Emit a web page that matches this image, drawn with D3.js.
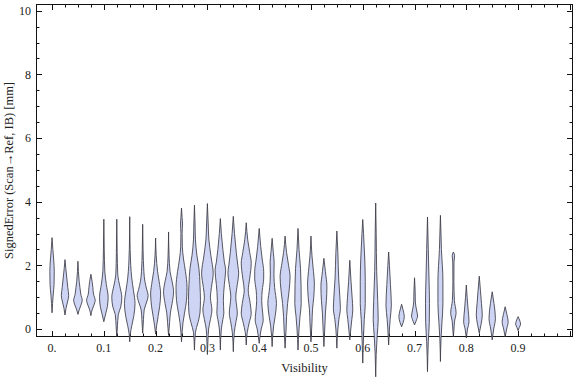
<!DOCTYPE html>
<html><head><meta charset="utf-8">
<script src="https://cdn.jsdelivr.net/npm/d3@7"></script>
<style>html,body{margin:0;padding:0;background:#fff;}svg{display:block;}</style>
</head><body>
<svg id="chart" width="576" height="377"></svg>
<script>
// Visibility bins (violin centres)
const visibility = [0,0.025,0.05,0.075,0.1,0.125,0.15,0.175,0.2,0.225,0.25,0.275,0.3,0.325,0.35,0.375,0.4,0.425,0.45,0.475,0.5,0.525,0.55,0.575,0.6,0.625,0.65,0.675,0.7,0.725,0.75,0.775,0.8,0.825,0.85,0.875,0.9];
// Estimated density profile of each violin: [signedError (mm), relative density]
const profiles = [
 [[2.87,0],[2.5,0.8],[2.2,1.6],[1.8,2.2],[1.4,2.0],[1.1,1.2],[0.8,0.5],[0.51,0]],
 [[2.18,0],[1.9,0.8],[1.6,1.8],[1.3,2.8],[1.05,3.7],[0.85,2.5],[0.65,1.0],[0.44,0]],
 [[2.13,0],[1.8,0.5],[1.5,1.2],[1.3,2.0],[1.1,2.8],[0.9,4.3],[0.75,3.0],[0.6,1.2],[0.46,0]],
 [[1.72,0],[1.5,1.2],[1.3,2.0],[1.1,2.6],[0.9,4.3],[0.75,3.0],[0.6,1.2],[0.42,0]],
 [[3.45,0],[2.5,0.4],[1.8,1.0],[1.4,2.5],[1.0,4.3],[0.7,3.5],[0.5,2.0],[0.23,0]],
 [[3.45,0],[2.4,0.4],[1.7,1.0],[1.35,3.0],[1.0,5.0],[0.7,4.0],[0.45,1.5],[0.1,0.7],[-0.24,0]],
 [[3.53,0],[2.5,0.4],[2.0,1.0],[1.6,2.0],[1.2,3.8],[0.8,5.3],[0.4,4.0],[0.1,2.0],[-0.15,0.6],[-0.4,0]],
 [[3.29,0],[2.5,0.4],[1.8,1.2],[1.5,2.2],[1.25,4.0],[1.05,5.5],[0.85,4.0],[0.6,1.5],[0.3,0.8],[-0.13,0]],
 [[2.86,0],[2.3,0.6],[1.8,2.0],[1.5,3.5],[1.1,5.0],[0.7,4.0],[0.4,2.5],[0.1,1.0],[-0.16,0]],
 [[3.05,0],[2.3,0.5],[1.8,1.5],[1.5,3.5],[1.17,5.0],[0.8,3.5],[0.5,1.8],[0.2,1.0],[-0.2,0]],
 [[3.8,0],[3.5,0.6],[3.3,1.0],[3.0,0.6],[2.6,0.8],[2.2,2.0],[1.8,4.0],[1.3,5.5],[0.9,5.0],[0.5,3.0],[0.2,1.5],[-0.1,0.6],[-0.4,0]],
 [[3.89,0],[3.3,0.6],[2.8,1.0],[2.3,2.5],[1.9,4.5],[1.4,5.5],[0.9,6.0],[0.5,5.5],[0.2,3.5],[-0.1,1.0],[-0.66,0]],
 [[3.94,0],[3.3,0.8],[2.8,1.5],[2.3,3.5],[1.75,5.8],[1.3,4.0],[1.0,3.0],[0.6,4.5],[0.3,3.0],[0.0,1.2],[-0.4,0.5],[-0.8,0]],
 [[3.47,0],[3.0,1.0],[2.5,2.5],[2.1,4.0],[1.85,5.3],[1.4,4.0],[0.9,3.0],[0.5,3.5],[0.3,2.5],[0.0,1.0],[-0.66,0]],
 [[3.54,0],[3.0,1.2],[2.4,3.0],[2.0,4.5],[1.75,5.4],[1.4,4.0],[1.0,2.5],[0.5,4.0],[0.2,2.5],[-0.1,1.0],[-0.71,0]],
 [[3.34,0],[2.8,1.5],[2.4,3.5],[2.07,5.0],[1.6,3.5],[1.22,2.0],[0.8,4.0],[0.5,5.0],[0.2,3.0],[-0.1,1.0],[-0.5,0]],
 [[3.16,0],[2.6,1.5],[2.2,3.0],[1.8,4.5],[1.6,4.5],[1.2,3.0],[0.9,2.5],[0.5,3.5],[0.28,4.0],[0.0,2.0],[-0.45,0]],
 [[2.85,0],[2.4,1.2],[2.1,2.0],[1.7,1.8],[1.3,2.5],[0.8,4.3],[0.4,3.0],[0.1,1.5],[-0.55,0]],
 [[2.92,0],[2.4,1.5],[2.0,3.5],[1.64,5.0],[1.2,4.0],[0.8,2.5],[0.4,1.5],[0.0,1.0],[-0.6,0]],
 [[3.16,0],[2.5,1.0],[1.9,2.5],[1.4,3.0],[0.8,3.2],[0.4,2.0],[0.0,1.0],[-0.66,0]],
 [[2.92,0],[2.3,1.0],[1.8,2.5],[1.44,3.4],[1.0,2.8],[0.6,1.5],[0.2,1.0],[-0.4,0]],
 [[2.22,0],[1.8,1.5],[1.33,3.0],[0.9,2.5],[0.5,1.5],[0.0,0.8],[-0.55,0]],
 [[3.08,0],[2.4,1.0],[1.6,1.8],[1.0,3.0],[0.65,3.5],[0.3,2.0],[0.0,1.0],[-0.6,0]],
 [[2.16,0],[1.5,1.2],[1.0,2.3],[0.6,3.0],[0.3,2.0],[0.0,1.0],[-0.34,0]],
 [[3.44,0],[3.0,0.8],[2.2,2.0],[1.5,2.5],[0.8,2.5],[0.3,1.5],[-0.2,0.8],[-1.07,0]],
 [[3.96,0],[3.0,0.5],[1.8,1.0],[0.9,2.0],[0.3,2.5],[-0.2,1.5],[-0.8,0.5],[-1.5,0]],
 [[2.42,0],[2.0,0.8],[1.4,1.8],[0.75,2.7],[0.3,1.5],[0.0,0.8],[-0.5,0]],
 [[0.78,0],[0.6,1.5],[0.39,2.7],[0.2,1.5],[0.07,0]],
 [[1.61,0],[1.2,0.6],[0.85,0.8],[0.6,2.0],[0.41,3.0],[0.25,1.5],[0.13,0]],
 [[3.52,0],[2.5,0.8],[1.6,1.5],[0.8,2.0],[0.2,1.8],[-0.4,0.8],[-1.34,0]],
 [[3.57,0],[2.5,1.0],[1.5,2.5],[0.8,2.5],[0.2,1.5],[-0.3,0.6],[-1.02,0]],
 [[2.42,0],[2.3,1.2],[2.1,0.6],[1.5,0.5],[0.9,1.0],[0.51,2.7],[0.25,1.2],[0.0,0.6],[-0.24,0]],
 [[1.38,0],[1.0,0.8],[0.6,1.8],[0.23,2.7],[0.0,1.2],[-0.28,0]],
 [[1.66,0],[1.2,1.2],[0.8,2.2],[0.44,3.0],[0.15,1.8],[-0.13,0]],
 [[1.17,0],[0.8,1.8],[0.33,3.2],[0.0,1.5],[-0.34,0]],
 [[0.7,0],[0.45,1.8],[0.23,3.0],[0.0,1.5],[-0.24,0]],
 [[0.39,0],[0.25,1.8],[0.16,2.5],[0.05,1.2],[-0.05,0]]
];
const xTickValues = [0,0.1,0.2,0.3,0.4,0.5,0.6,0.7,0.8,0.9];
const xTickLabels = ["0.","0.1","0.2","0.3","0.4","0.5","0.6","0.7","0.8","0.9"];
const yTickValues = [0,2,4,6,8,10];
const xTitle = "Visibility";
const yTitle = "SignedError (Scan\u2192Ref, IB) [mm]";

const svg = d3.select("#chart");
const L = 36, R = 573, T = 4, B = 337;
const x = d3.scaleLinear().domain([-0.031, 1.006]).range([L, R]);
const y = d3.scaleLinear().domain([-0.25, 10.21]).range([B, T]);
const w = d3.scaleLinear().domain([0, 1]).range([0, 1]);
const font = "'Liberation Serif', 'Times New Roman', serif";
const ink = "#222";

// tick labels
svg.append("g").selectAll("text").data(yTickValues).join("text")
  .attr("x", L - 5).attr("y", d => y(d)).attr("dy", "0.35em")
  .attr("text-anchor", "end").attr("font-family", font).attr("font-size", 12).attr("fill", ink)
  .text(d => d);
svg.append("g").selectAll("text").data(xTickValues).join("text")
  .attr("x", d => x(d)).attr("y", B + 15)
  .attr("text-anchor", "middle").attr("font-family", font).attr("font-size", 12).attr("fill", ink)
  .text((d, i) => xTickLabels[i]);

// titles
svg.append("text").attr("x", (L + R) / 2).attr("y", 372).attr("text-anchor", "middle")
  .attr("font-family", font).attr("font-size", 12.5).attr("fill", ink).text(xTitle);
svg.append("text").attr("transform", `translate(13,${(T + B) / 2}) rotate(-90)`)
  .attr("text-anchor", "middle").attr("font-family", font).attr("font-size", 12.5).attr("fill", ink).text(yTitle);

// frame
svg.append("rect").attr("x", L + 0.5).attr("y", T + 0.5).attr("width", R - L - 1).attr("height", B - T - 1)
  .attr("fill", "none").attr("stroke", "#111").attr("stroke-width", 1);

// ticks (inward)
const yMinor = d3.range(0, 10.01, 0.5);
const tk = svg.append("g").attr("stroke", "#111").attr("stroke-width", 1);
yMinor.forEach(v => {
  const len = (Math.abs(v % 2) < 1e-6) ? 6 : 3.5;
  const py = Math.round(y(v)) + 0.5;
  tk.append("line").attr("x1", L).attr("x2", L + len).attr("y1", py).attr("y2", py);
  tk.append("line").attr("x1", R).attr("x2", R - len).attr("y1", py).attr("y2", py);
});
const xMinor = d3.range(0, 1.0001, 0.025);
xMinor.forEach(v => {
  const major = Math.abs(Math.round(v * 10) - v * 10) < 1e-6;
  const len = major ? 6 : 3.5;
  const px = Math.round(x(v)) + 0.5;
  tk.append("line").attr("x1", px).attr("x2", px).attr("y1", B).attr("y2", B - len);
  tk.append("line").attr("x1", px).attr("x2", px).attr("y1", T).attr("y2", T + len);
});

// violins
const g = svg.append("g");
profiles.forEach((prof, i) => {
  const cx = x(visibility[i]);
  const area = d3.area()
    .y(d => y(d[0]))
    .x0(d => cx - w(d[1]))
    .x1(d => cx + w(d[1]))
    .curve(d3.curveMonotoneY);
  const pts = prof.slice().reverse();
  g.append("path").attr("d", area(pts))
    .attr("fill", "#cdd4f4").attr("stroke", "#3c3c46").attr("stroke-opacity", 0.85)
    .attr("stroke-width", 1).attr("stroke-linejoin", "round");
});
</script>
</body></html>
